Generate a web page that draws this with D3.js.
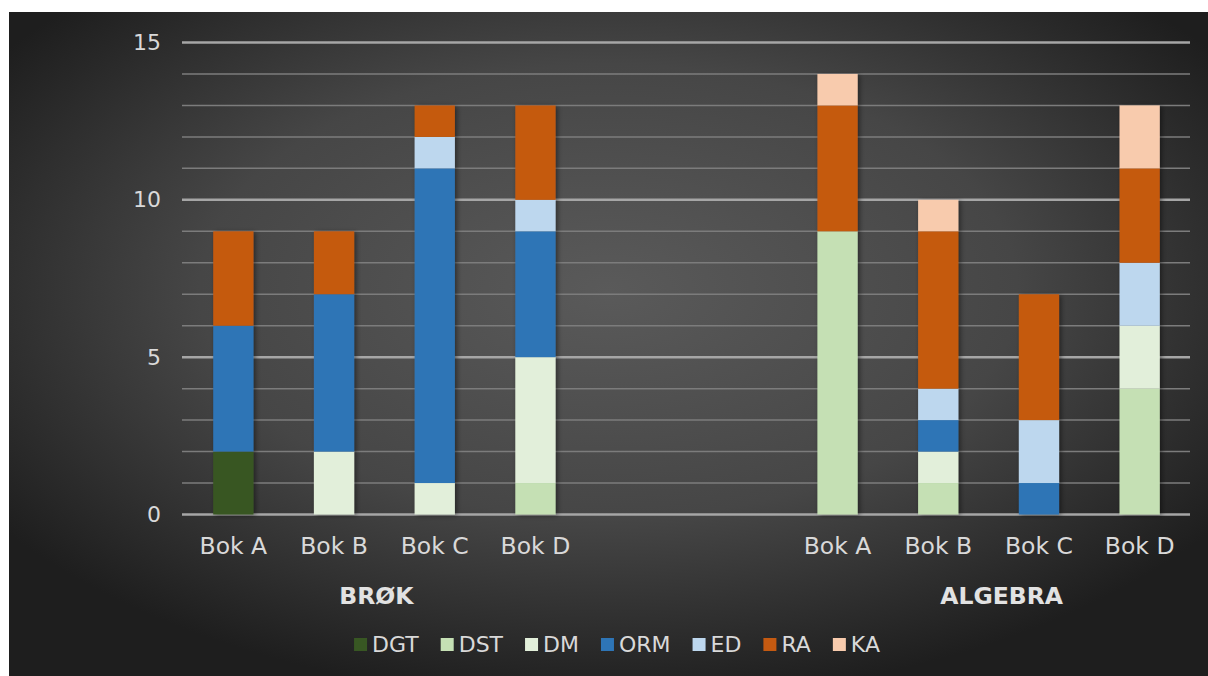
<!DOCTYPE html>
<html>
<head>
<meta charset="utf-8">
<script src="https://cdn.jsdelivr.net/npm/d3@7/dist/d3.min.js"></script>
<style>
  html, body { margin: 0; padding: 0; background: #ffffff; }
  svg { display: block; }
  text { font-family: "DejaVu Sans", Verdana, sans-serif; }
</style>
</head>
<body>
<svg id="chart" width="1208" height="676"></svg>
<script>
// ---- data ----
const groups = ["BRØK", "ALGEBRA"];
const books = ["Bok A", "Bok B", "Bok C", "Bok D"];
const seriesNames = ["DGT", "DST", "DM", "ORM", "ED", "RA", "KA"];
// values per book: BRØK A-D, then ALGEBRA A-D
const DGT = [2, 0, 0, 0, 0, 0, 0, 0];
const DST = [0, 0, 0, 1, 9, 1, 0, 4];
const DM  = [0, 2, 1, 4, 0, 1, 0, 2];
const ORM = [4, 5, 10, 4, 0, 1, 1, 0];
const ED  = [0, 0, 1, 1, 0, 1, 2, 2];
const RA  = [3, 2, 1, 3, 4, 5, 4, 3];
const KA  = [0, 0, 0, 0, 1, 1, 0, 2];
const yTicks = [0, 5, 10, 15];

const seriesValues = { DGT, DST, DM, ORM, ED, RA, KA };
const colors = {
  DGT: "#385723", DST: "#c5e0b4", DM: "#e2efda", ORM: "#2e75b6",
  ED: "#bdd7ee", RA: "#c55a11", KA: "#f8cbad"
};

// slots: 4 books, 2 empty gaps, 4 books
const slotKeys = [];
const rows = [];
groups.forEach((g, gi) => {
  books.forEach((b, bi) => {
    const key = g + "|" + b;
    slotKeys.push(key);
    const row = { key, group: g, book: b };
    seriesNames.forEach(s => row[s] = seriesValues[s][gi * 4 + bi]);
    rows.push(row);
  });
  if (gi === 0) { slotKeys.push("gap0", "gap1"); }
});

const svg = d3.select("#chart");
const W = 1208, H = 676;
const FONT = "DejaVu Sans, Verdana, sans-serif";

// background
const defs = svg.append("defs");
const rg = defs.append("radialGradient").attr("id", "bg")
  .attr("cx", "50%").attr("cy", "42%").attr("r", "62%");
rg.append("stop").attr("offset", "0%").attr("stop-color", "#5a5a5a");
rg.append("stop").attr("offset", "55%").attr("stop-color", "#464646");
rg.append("stop").attr("offset", "100%").attr("stop-color", "#1e1e1e");
const sh = defs.append("filter").attr("id", "shadow")
  .attr("x", "-30%").attr("y", "-10%").attr("width", "160%").attr("height", "120%");
sh.append("feDropShadow").attr("dx", 2).attr("dy", 1).attr("stdDeviation", 2.5)
  .attr("flood-color", "#000").attr("flood-opacity", 0.45);

svg.append("rect").attr("x", 9).attr("y", 12).attr("width", W - 9).attr("height", H - 12)
  .attr("fill", "url(#bg)");

// scales
const x = d3.scaleBand().domain(slotKeys).range([183, 1190])
  .paddingInner(0.6).paddingOuter(0.3);
const y = d3.scaleLinear().domain([0, 15]).range([514.5, 42.5]);

// gridlines
const minor = d3.range(0, 16).filter(v => !yTicks.includes(v));
svg.append("g").selectAll("line").data(minor).join("line")
  .attr("x1", 182).attr("x2", 1190)
  .attr("y1", d => y(d)).attr("y2", d => y(d))
  .attr("stroke", "#7c7c7c").attr("stroke-width", 1.5);
svg.append("g").selectAll("line").data(yTicks).join("line")
  .attr("x1", 182).attr("x2", 1190)
  .attr("y1", d => y(d)).attr("y2", d => y(d))
  .attr("stroke", "#a6a6a6").attr("stroke-width", 2.5);

// y axis labels
const yAxis = d3.axisLeft(y).tickValues(yTicks).tickSize(0).tickPadding(0);
const ya = svg.append("g").attr("transform", "translate(161,0)").call(yAxis);
ya.select(".domain").remove();
ya.selectAll("text").attr("fill", "#d9d9d9").attr("font-size", 22)
  .attr("font-family", FONT);

// stacked bars
const stack = d3.stack().keys(seriesNames);
const stacked = stack(rows);
const barsG = svg.append("g").attr("filter", "url(#shadow)");
stacked.forEach(layer => {
  barsG.append("g").attr("fill", colors[layer.key])
    .selectAll("rect").data(layer.filter(d => d[1] > d[0])).join("rect")
    .attr("x", d => x(d.data.key))
    .attr("width", x.bandwidth())
    .attr("y", d => y(d[1]))
    .attr("height", d => y(d[0]) - y(d[1]));
});

// x axis labels (books)
const xAxis = d3.axisBottom(x).tickValues(rows.map(r => r.key))
  .tickFormat(k => k.split("|")[1]).tickSize(0).tickPadding(0);
const xa = svg.append("g").attr("transform", "translate(0,537)").call(xAxis);
xa.select(".domain").remove();
xa.selectAll("text").attr("fill", "#d9d9d9").attr("font-size", 23.5)
  .attr("font-family", FONT);

// group labels
const groupOffset = { "BRØK": -8, "ALGEBRA": 13 };
groups.forEach(g => {
  const ks = rows.filter(r => r.group === g).map(r => x(r.key) + x.bandwidth() / 2);
  const cx = d3.mean(ks) + groupOffset[g];
  svg.append("text").attr("x", cx).attr("y", 604)
    .attr("text-anchor", "middle").attr("font-size", 23.5).attr("font-weight", "bold")
    .attr("fill", "#e2e2e2").text(g);
});

// legend (laid out, then centred)
const leg = svg.append("g");
let lx = 0;
seriesNames.forEach(s => {
  leg.append("rect").attr("x", lx).attr("y", 638).attr("width", 13).attr("height", 13)
    .attr("fill", colors[s]);
  const t = leg.append("text").attr("x", lx + 18).attr("y", 652)
    .attr("font-size", 22).attr("fill", "#d9d9d9").text(s);
  lx += 18 + t.node().getComputedTextLength() + 22;
});
const legW = lx - 22;
leg.attr("transform", `translate(${617 - legW / 2},0)`);
</script>
</body>
</html>
